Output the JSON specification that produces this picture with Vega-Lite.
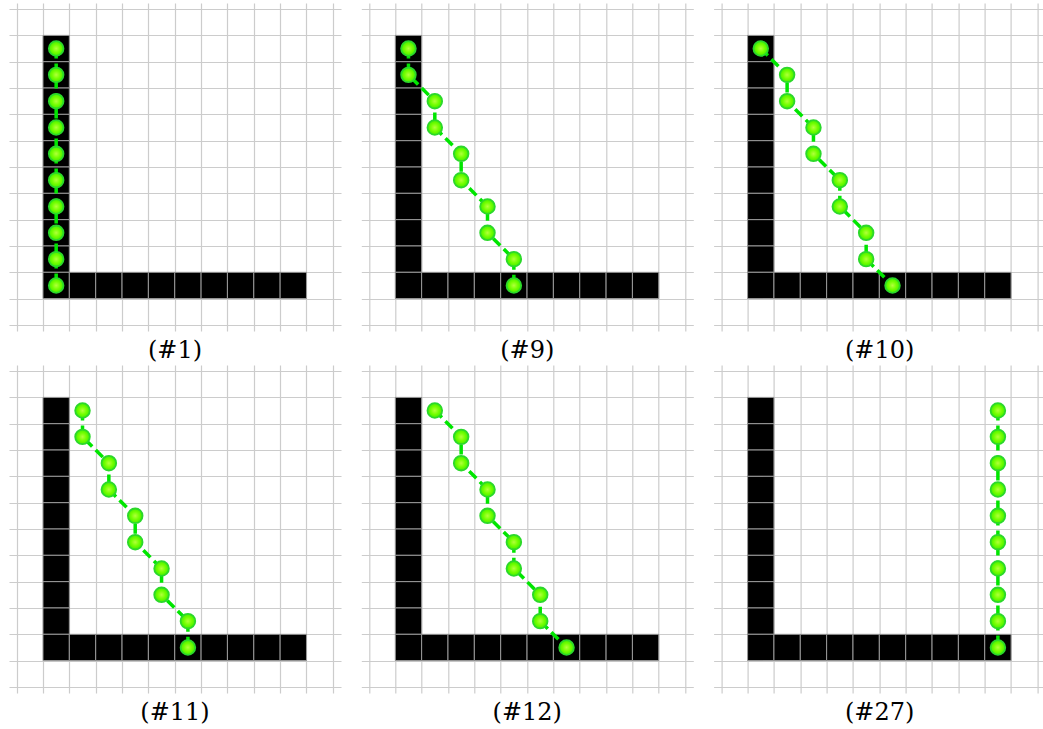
{
  "$schema": "https://vega.github.io/schema/vega-lite/v6.json",
  "padding": {"left": 9, "top": 3, "right": 0, "bottom": 0},
  "background": "white",
  "columns": 3,
  "spacing": {"row": 34, "column": 20.3},
  "bounds": "flush",
  "datasets": {
    "cells": [
      {"x": 1, "x2": 2, "y": 1, "y2": 2},
      {"x": 1, "x2": 2, "y": 2, "y2": 3},
      {"x": 1, "x2": 2, "y": 3, "y2": 4},
      {"x": 1, "x2": 2, "y": 4, "y2": 5},
      {"x": 1, "x2": 2, "y": 5, "y2": 6},
      {"x": 1, "x2": 2, "y": 6, "y2": 7},
      {"x": 1, "x2": 2, "y": 7, "y2": 8},
      {"x": 1, "x2": 2, "y": 8, "y2": 9},
      {"x": 1, "x2": 2, "y": 9, "y2": 10},
      {"x": 1, "x2": 2, "y": 10, "y2": 11},
      {"x": 2, "x2": 3, "y": 10, "y2": 11},
      {"x": 3, "x2": 4, "y": 10, "y2": 11},
      {"x": 4, "x2": 5, "y": 10, "y2": 11},
      {"x": 5, "x2": 6, "y": 10, "y2": 11},
      {"x": 6, "x2": 7, "y": 10, "y2": 11},
      {"x": 7, "x2": 8, "y": 10, "y2": 11},
      {"x": 8, "x2": 9, "y": 10, "y2": 11},
      {"x": 9, "x2": 10, "y": 10, "y2": 11},
      {"x": 10, "x2": 11, "y": 10, "y2": 11}
    ],
    "paths": [
      {"panel": "#1", "x": 1.5, "y": 1.5}, {"panel": "#1", "x": 1.5, "y": 2.5}, {"panel": "#1", "x": 1.5, "y": 3.5}, {"panel": "#1", "x": 1.5, "y": 4.5}, {"panel": "#1", "x": 1.5, "y": 5.5},
      {"panel": "#1", "x": 1.5, "y": 6.5}, {"panel": "#1", "x": 1.5, "y": 7.5}, {"panel": "#1", "x": 1.5, "y": 8.5}, {"panel": "#1", "x": 1.5, "y": 9.5}, {"panel": "#1", "x": 1.5, "y": 10.5},
      {"panel": "#9", "x": 1.5, "y": 1.5}, {"panel": "#9", "x": 1.5, "y": 2.5}, {"panel": "#9", "x": 2.5, "y": 3.5}, {"panel": "#9", "x": 2.5, "y": 4.5}, {"panel": "#9", "x": 3.5, "y": 5.5},
      {"panel": "#9", "x": 3.5, "y": 6.5}, {"panel": "#9", "x": 4.5, "y": 7.5}, {"panel": "#9", "x": 4.5, "y": 8.5}, {"panel": "#9", "x": 5.5, "y": 9.5}, {"panel": "#9", "x": 5.5, "y": 10.5},
      {"panel": "#10", "x": 1.5, "y": 1.5}, {"panel": "#10", "x": 2.5, "y": 2.5}, {"panel": "#10", "x": 2.5, "y": 3.5}, {"panel": "#10", "x": 3.5, "y": 4.5}, {"panel": "#10", "x": 3.5, "y": 5.5},
      {"panel": "#10", "x": 4.5, "y": 6.5}, {"panel": "#10", "x": 4.5, "y": 7.5}, {"panel": "#10", "x": 5.5, "y": 8.5}, {"panel": "#10", "x": 5.5, "y": 9.5}, {"panel": "#10", "x": 6.5, "y": 10.5},
      {"panel": "#11", "x": 2.5, "y": 1.5}, {"panel": "#11", "x": 2.5, "y": 2.5}, {"panel": "#11", "x": 3.5, "y": 3.5}, {"panel": "#11", "x": 3.5, "y": 4.5}, {"panel": "#11", "x": 4.5, "y": 5.5},
      {"panel": "#11", "x": 4.5, "y": 6.5}, {"panel": "#11", "x": 5.5, "y": 7.5}, {"panel": "#11", "x": 5.5, "y": 8.5}, {"panel": "#11", "x": 6.5, "y": 9.5}, {"panel": "#11", "x": 6.5, "y": 10.5},
      {"panel": "#12", "x": 2.5, "y": 1.5}, {"panel": "#12", "x": 3.5, "y": 2.5}, {"panel": "#12", "x": 3.5, "y": 3.5}, {"panel": "#12", "x": 4.5, "y": 4.5}, {"panel": "#12", "x": 4.5, "y": 5.5},
      {"panel": "#12", "x": 5.5, "y": 6.5}, {"panel": "#12", "x": 5.5, "y": 7.5}, {"panel": "#12", "x": 6.5, "y": 8.5}, {"panel": "#12", "x": 6.5, "y": 9.5}, {"panel": "#12", "x": 7.5, "y": 10.5},
      {"panel": "#27", "x": 10.5, "y": 1.5}, {"panel": "#27", "x": 10.5, "y": 2.5}, {"panel": "#27", "x": 10.5, "y": 3.5}, {"panel": "#27", "x": 10.5, "y": 4.5}, {"panel": "#27", "x": 10.5, "y": 5.5},
      {"panel": "#27", "x": 10.5, "y": 6.5}, {"panel": "#27", "x": 10.5, "y": 7.5}, {"panel": "#27", "x": 10.5, "y": 8.5}, {"panel": "#27", "x": 10.5, "y": 9.5}, {"panel": "#27", "x": 10.5, "y": 10.5}
    ]
  },
  "concat": [
    {
      "title": "(#1)", "width": 332, "height": 328,
      "encoding": {
        "x": {"field": "x", "type": "quantitative", "scale": {"domain": [-0.29, 12.31], "nice": false, "zero": false}, "axis": {"values": [0,1,2,3,4,5,6,7,8,9,10,11,12], "tickCount": 13, "title": null}},
        "y": {"field": "y", "type": "quantitative", "scale": {"domain": [-0.23, 12.23], "nice": false, "zero": false, "reverse": true}, "axis": {"values": [0,1,2,3,4,5,6,7,8,9,10,11,12], "tickCount": 13, "title": null}}
      },
      "layer": [
        {"data": {"name": "cells"}, "mark": {"type": "rect", "fill": "#000000", "stroke": "#9a9a9a", "strokeWidth": 1},
         "encoding": {"x2": {"field": "x2"}, "y2": {"field": "y2"}}},
        {"data": {"name": "paths"}, "transform": [{"filter": "datum.panel == '#1'"}],
         "mark": {"type": "line", "color": "#00e600", "strokeWidth": 3.5, "strokeDash": [10, 5]},
         "encoding": {"order": {"field": "y"}}},
        {"data": {"name": "paths"}, "transform": [{"filter": "datum.panel == '#1'"}],
         "mark": {"type": "point", "filled": true, "size": 215, "opacity": 1, "stroke": "#2bd82b", "strokeWidth": 1.8,
                  "fill": {"gradient": "radial", "x1": 0.5, "y1": 0.5, "r1": 0, "x2": 0.5, "y2": 0.5, "r2": 0.5, "stops": [{"offset": 0, "color": "#b4ff3c"}, {"offset": 0.55, "color": "#72ff00"}, {"offset": 1, "color": "#44ee00"}]}},
         "encoding": {}}
      ]
    },
    {
      "title": "(#9)", "width": 332, "height": 328,
      "encoding": {
        "x": {"field": "x", "type": "quantitative", "scale": {"domain": [-0.29, 12.31], "nice": false, "zero": false}, "axis": {"values": [0,1,2,3,4,5,6,7,8,9,10,11,12], "tickCount": 13, "title": null}},
        "y": {"field": "y", "type": "quantitative", "scale": {"domain": [-0.23, 12.23], "nice": false, "zero": false, "reverse": true}, "axis": {"values": [0,1,2,3,4,5,6,7,8,9,10,11,12], "tickCount": 13, "title": null}}
      },
      "layer": [
        {"data": {"name": "cells"}, "mark": {"type": "rect", "fill": "#000000", "stroke": "#9a9a9a", "strokeWidth": 1},
         "encoding": {"x2": {"field": "x2"}, "y2": {"field": "y2"}}},
        {"data": {"name": "paths"}, "transform": [{"filter": "datum.panel == '#9'"}],
         "mark": {"type": "line", "color": "#00e600", "strokeWidth": 3.5, "strokeDash": [10, 5]},
         "encoding": {"order": {"field": "y"}}},
        {"data": {"name": "paths"}, "transform": [{"filter": "datum.panel == '#9'"}],
         "mark": {"type": "point", "filled": true, "size": 215, "opacity": 1, "stroke": "#2bd82b", "strokeWidth": 1.8,
                  "fill": {"gradient": "radial", "x1": 0.5, "y1": 0.5, "r1": 0, "x2": 0.5, "y2": 0.5, "r2": 0.5, "stops": [{"offset": 0, "color": "#b4ff3c"}, {"offset": 0.55, "color": "#72ff00"}, {"offset": 1, "color": "#44ee00"}]}},
         "encoding": {}}
      ]
    },
    {
      "title": "(#10)", "width": 332, "height": 328,
      "encoding": {
        "x": {"field": "x", "type": "quantitative", "scale": {"domain": [-0.29, 12.31], "nice": false, "zero": false}, "axis": {"values": [0,1,2,3,4,5,6,7,8,9,10,11,12], "tickCount": 13, "title": null}},
        "y": {"field": "y", "type": "quantitative", "scale": {"domain": [-0.23, 12.23], "nice": false, "zero": false, "reverse": true}, "axis": {"values": [0,1,2,3,4,5,6,7,8,9,10,11,12], "tickCount": 13, "title": null}}
      },
      "layer": [
        {"data": {"name": "cells"}, "mark": {"type": "rect", "fill": "#000000", "stroke": "#9a9a9a", "strokeWidth": 1},
         "encoding": {"x2": {"field": "x2"}, "y2": {"field": "y2"}}},
        {"data": {"name": "paths"}, "transform": [{"filter": "datum.panel == '#10'"}],
         "mark": {"type": "line", "color": "#00e600", "strokeWidth": 3.5, "strokeDash": [10, 5]},
         "encoding": {"order": {"field": "y"}}},
        {"data": {"name": "paths"}, "transform": [{"filter": "datum.panel == '#10'"}],
         "mark": {"type": "point", "filled": true, "size": 215, "opacity": 1, "stroke": "#2bd82b", "strokeWidth": 1.8,
                  "fill": {"gradient": "radial", "x1": 0.5, "y1": 0.5, "r1": 0, "x2": 0.5, "y2": 0.5, "r2": 0.5, "stops": [{"offset": 0, "color": "#b4ff3c"}, {"offset": 0.55, "color": "#72ff00"}, {"offset": 1, "color": "#44ee00"}]}},
         "encoding": {}}
      ]
    },
    {
      "title": "(#11)", "width": 332, "height": 328,
      "encoding": {
        "x": {"field": "x", "type": "quantitative", "scale": {"domain": [-0.29, 12.31], "nice": false, "zero": false}, "axis": {"values": [0,1,2,3,4,5,6,7,8,9,10,11,12], "tickCount": 13, "title": null}},
        "y": {"field": "y", "type": "quantitative", "scale": {"domain": [-0.23, 12.23], "nice": false, "zero": false, "reverse": true}, "axis": {"values": [0,1,2,3,4,5,6,7,8,9,10,11,12], "tickCount": 13, "title": null}}
      },
      "layer": [
        {"data": {"name": "cells"}, "mark": {"type": "rect", "fill": "#000000", "stroke": "#9a9a9a", "strokeWidth": 1},
         "encoding": {"x2": {"field": "x2"}, "y2": {"field": "y2"}}},
        {"data": {"name": "paths"}, "transform": [{"filter": "datum.panel == '#11'"}],
         "mark": {"type": "line", "color": "#00e600", "strokeWidth": 3.5, "strokeDash": [10, 5]},
         "encoding": {"order": {"field": "y"}}},
        {"data": {"name": "paths"}, "transform": [{"filter": "datum.panel == '#11'"}],
         "mark": {"type": "point", "filled": true, "size": 215, "opacity": 1, "stroke": "#2bd82b", "strokeWidth": 1.8,
                  "fill": {"gradient": "radial", "x1": 0.5, "y1": 0.5, "r1": 0, "x2": 0.5, "y2": 0.5, "r2": 0.5, "stops": [{"offset": 0, "color": "#b4ff3c"}, {"offset": 0.55, "color": "#72ff00"}, {"offset": 1, "color": "#44ee00"}]}},
         "encoding": {}}
      ]
    },
    {
      "title": "(#12)", "width": 332, "height": 328,
      "encoding": {
        "x": {"field": "x", "type": "quantitative", "scale": {"domain": [-0.29, 12.31], "nice": false, "zero": false}, "axis": {"values": [0,1,2,3,4,5,6,7,8,9,10,11,12], "tickCount": 13, "title": null}},
        "y": {"field": "y", "type": "quantitative", "scale": {"domain": [-0.23, 12.23], "nice": false, "zero": false, "reverse": true}, "axis": {"values": [0,1,2,3,4,5,6,7,8,9,10,11,12], "tickCount": 13, "title": null}}
      },
      "layer": [
        {"data": {"name": "cells"}, "mark": {"type": "rect", "fill": "#000000", "stroke": "#9a9a9a", "strokeWidth": 1},
         "encoding": {"x2": {"field": "x2"}, "y2": {"field": "y2"}}},
        {"data": {"name": "paths"}, "transform": [{"filter": "datum.panel == '#12'"}],
         "mark": {"type": "line", "color": "#00e600", "strokeWidth": 3.5, "strokeDash": [10, 5]},
         "encoding": {"order": {"field": "y"}}},
        {"data": {"name": "paths"}, "transform": [{"filter": "datum.panel == '#12'"}],
         "mark": {"type": "point", "filled": true, "size": 215, "opacity": 1, "stroke": "#2bd82b", "strokeWidth": 1.8,
                  "fill": {"gradient": "radial", "x1": 0.5, "y1": 0.5, "r1": 0, "x2": 0.5, "y2": 0.5, "r2": 0.5, "stops": [{"offset": 0, "color": "#b4ff3c"}, {"offset": 0.55, "color": "#72ff00"}, {"offset": 1, "color": "#44ee00"}]}},
         "encoding": {}}
      ]
    },
    {
      "title": "(#27)", "width": 332, "height": 328,
      "encoding": {
        "x": {"field": "x", "type": "quantitative", "scale": {"domain": [-0.29, 12.31], "nice": false, "zero": false}, "axis": {"values": [0,1,2,3,4,5,6,7,8,9,10,11,12], "tickCount": 13, "title": null}},
        "y": {"field": "y", "type": "quantitative", "scale": {"domain": [-0.23, 12.23], "nice": false, "zero": false, "reverse": true}, "axis": {"values": [0,1,2,3,4,5,6,7,8,9,10,11,12], "tickCount": 13, "title": null}}
      },
      "layer": [
        {"data": {"name": "cells"}, "mark": {"type": "rect", "fill": "#000000", "stroke": "#9a9a9a", "strokeWidth": 1},
         "encoding": {"x2": {"field": "x2"}, "y2": {"field": "y2"}}},
        {"data": {"name": "paths"}, "transform": [{"filter": "datum.panel == '#27'"}],
         "mark": {"type": "line", "color": "#00e600", "strokeWidth": 3.5, "strokeDash": [10, 5]},
         "encoding": {"order": {"field": "y"}}},
        {"data": {"name": "paths"}, "transform": [{"filter": "datum.panel == '#27'"}],
         "mark": {"type": "point", "filled": true, "size": 215, "opacity": 1, "stroke": "#2bd82b", "strokeWidth": 1.8,
                  "fill": {"gradient": "radial", "x1": 0.5, "y1": 0.5, "r1": 0, "x2": 0.5, "y2": 0.5, "r2": 0.5, "stops": [{"offset": 0, "color": "#b4ff3c"}, {"offset": 0.55, "color": "#72ff00"}, {"offset": 1, "color": "#44ee00"}]}},
         "encoding": {}}
      ]
    }
  ],
  "config": {
    "view": {"stroke": null},
    "axis": {"grid": true, "gridColor": "#cccccc", "gridWidth": 1.2, "gridOpacity": 1, "domain": false, "ticks": false, "labels": false, "tickCount": 13},
    "title": {"orient": "bottom", "anchor": "middle", "font": "DejaVu Serif", "fontSize": 24, "fontWeight": "normal", "color": "#000000", "offset": 8}
  }
}
